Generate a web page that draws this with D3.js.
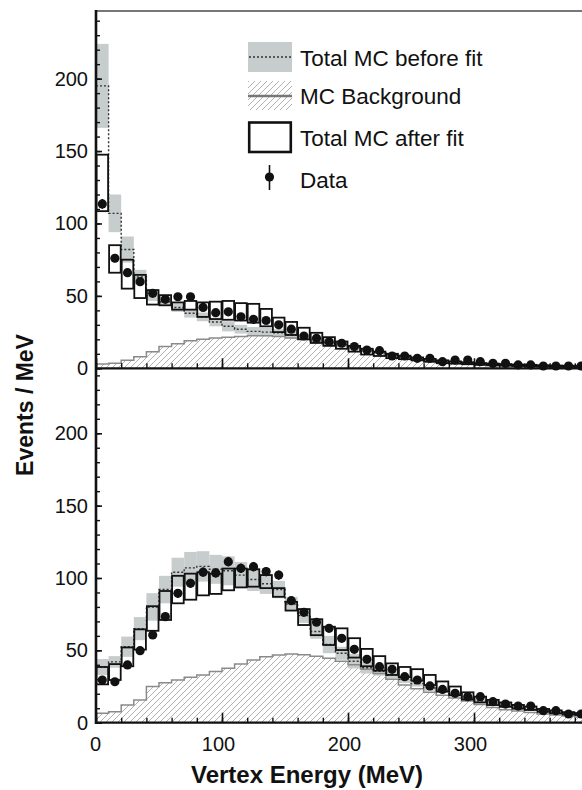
<!DOCTYPE html>
<html>
<head>
<meta charset="utf-8">
<script src="https://cdn.jsdelivr.net/npm/d3@7"></script>
<style>
  html, body { margin: 0; padding: 0; background: #fff; }
  svg { display: block; font-family: "Liberation Sans", Arial, Helvetica, sans-serif; }
</style>
</head>
<body>
<svg id="chart" width="582" height="790"></svg>
<script>
// ---------------- DATA ----------------
const binStart = [0,10,20,30,40,50,60,70,80,90,100,110,120,130,140,150,160,170,180,190,
                  200,210,220,230,240,250,260,270,280,290,300,310,320,330,340,350,360,370,380];
const binWidth = 10;

// Top panel
const beforeTop    = [195,107,82,63,50,46,42,38,35.5,32,29,27,25.5,25,24.5,23,21.5,19.5,18,16.5,14.5,12.5,11,9.5,8,6.5,5.5,4.5,4,3.5,3,2.5,2,1.8,1.5,1.3,1.2,1,1];
const beforeErrTop = [29,13,9,5,3.5,3,3,3,3,3,3.5,3,3,3,2.5,2.5,2,2,2,1.5,1.5,1.5,1.2,1.2,1,1,0.8,0.8,0.7,0.6,0.6,0.5,0.5,0.5,0.4,0.4,0.4,0.3,0.3];
const bgTop        = [3,3.5,5.5,8,11.5,15,17,19,20,21,21.5,22,22.5,22.5,22,21,20,18.5,17,15.5,14,12,10.5,9,7.5,6,5,4,3.5,3,2.5,2,1.8,1.5,1.2,1,0.9,0.8,0.7];
const afterTop     = [128,75.5,65,56.5,49,47,43,43.5,40.5,40,40,39,38,35,30,27.5,24,21,18.5,16,13.5,11.5,10,8.5,7.5,6.5,5.5,4.5,4,3.5,3,2.7,2.4,2.1,1.9,1.7,1.5,1.4,1.3];
const afterErrTop  = [19.5,9.5,10,8,5,3.5,2.5,3,5,6,6.5,6,6.5,6,5,4.5,4,3.5,3,2.5,2,2,1.5,1.5,1.2,1,1,1,0.8,0.7,0.6,0.6,0.5,0.5,0.5,0.4,0.4,0.4,0.4];
const dataTop      = [113.5,76,66,59.8,51.8,47.6,49.4,49.4,42,38.4,39,35.6,33.8,33,30,27,22.3,20.7,18.4,17.3,15,12.6,12.2,8.5,8.5,6.9,6.9,4.6,5.7,5.7,4.6,3.4,3.4,2.3,2.3,1.6,1.6,1.6,1.6];
const dataErrTop   = [3.4,2.8,2.6,2.4,2.3,2.2,2.2,2.2,2,2,2,1.9,1.8,1.8,1.7,1.6,1.5,1.4,1.4,1.3,1.2,1.1,1.1,0.9,0.9,0.8,0.8,0.7,0.8,0.8,0.7,0.6,0.6,0.5,0.5,0.4,0.4,0.4,0.4];

// Bottom panel
const beforeBot    = [38.5,42,52.5,65,80,92,104,107,108,106,105,102,99,96,92,82,74,63,54,48,42.5,38,35.5,33,30,27,24,22,19.5,17,15,13,11.5,10,9,8,7,6,5.5];
const beforeErrBot = [5.5,4,7,8,9.5,9.5,10,11,10.5,10,10,9,8,7,6,5,5,5,6,4.5,5,4,3,2.5,2.5,2,2,1.5,1.5,1.5,1.2,1,1,1,0.8,0.8,0.7,0.6,0.5];
const bgBot        = [6.5,7.6,12.2,15.7,25,27.6,29.5,31.4,33,35.3,37.6,40.6,43.3,45.6,46.8,47.5,47,46,44.5,42.5,40,37,34,30,26,23.5,21,19,17,15,12.5,10.5,9,8,7,6,5.3,4.6,4];
const afterBot     = [32.5,35,45.5,57.5,72,81,92,94,96,96,99,100,100,97.5,90,80.5,73,66,60,57.7,51.7,45,41,37,35,33,29.5,25,22,18.5,16,14,12.5,11,10,8.5,7.5,6.5,6];
const afterErrBot  = [6,5.5,6.5,7,8.5,10,9.5,9,8,7,7.5,6.5,6,4.5,3,3,5.5,5.5,6.3,7.5,6.7,6,5,4,3.5,4,3.5,3.5,3,2.5,2,1.8,1.5,1.3,1.2,1,1,0.8,0.7];
const dataBot      = [29.5,28.3,39.9,49.8,60.6,73.3,89.4,96.3,104,103.5,111.3,106.7,107.8,104.4,102,84.3,76.3,69.4,65.2,58.3,50.7,43.8,38.7,36.9,31.8,29.5,25.4,23,20.3,18,18,14.5,12.9,11.5,11.5,8.3,8.3,6,6];
const dataErrBot   = [1.7,1.7,2,2.2,2.5,2.7,3,3.1,3.2,3.2,3.3,3.3,3.3,3.2,3.2,2.9,2.8,2.6,2.6,2.4,2.3,2.1,2,1.9,1.8,1.7,1.6,1.5,1.4,1.3,1.3,1.2,1.1,1.1,1.1,0.9,0.9,0.8,0.8];

// Axis ticks
const xTickValues = [0, 100, 200, 300];
const xTickLabels = ["0", "100", "200", "300"];
const yTickValues = [0, 50, 100, 150, 200];
const yTickLabels = ["0", "50", "100", "150", "200"];
const legendLabels = ["Total MC before fit", "MC Background", "Total MC after fit", "Data"];
const xTitle = "Vertex Energy (MeV)";
const yTitle = "Events / MeV";

// ---------------- LAYOUT ----------------
const W = 582, H = 790;
const left = 96, right = 582;
const svg = d3.select("#chart");
svg.append("rect").attr("width", W).attr("height", H).attr("fill", "#fff");

const x = d3.scaleLinear().domain([0, 385.7]).range([left, right]);

const panels = [
  { id: "top", y: d3.scaleLinear().domain([0, 246.7]).range([368.3, 11]),
    before: beforeTop, beforeErr: beforeErrTop, bg: bgTop, after: afterTop, afterErr: afterErrTop,
    data: dataTop, dataErr: dataErrTop, labels: false },
  { id: "bot", y: d3.scaleLinear().domain([0, 244.9]).range([722.7, 368.3]),
    before: beforeBot, beforeErr: beforeErrBot, bg: bgBot, after: afterBot, afterErr: afterErrBot,
    data: dataBot, dataErr: dataErrBot, labels: true }
];

const defs = svg.append("defs");
const pat = defs.append("pattern").attr("id", "hatch").attr("patternUnits", "userSpaceOnUse")
  .attr("width", 6).attr("height", 6);
pat.append("path").attr("d", "M-1,1 l2,-2 M0,6 l6,-6 M5,7 l2,-2")
  .attr("stroke", "#a8a8a8").attr("stroke-width", 0.9);

const bandColor = "#c7cccc";

panels.forEach(p => {
  const y = p.y;
  const [yb, yt] = y.range();
  defs.append("clipPath").attr("id", "clip-" + p.id)
    .append("rect").attr("x", left).attr("y", yt).attr("width", right - left).attr("height", yb - yt);
  const g = svg.append("g").attr("clip-path", `url(#clip-${p.id})`);

  const stepPts = vals => binStart.map((b, i) => ({ x: b, v: vals[i] }))
      .concat([{ x: binStart[binStart.length - 1] + binWidth, v: vals[vals.length - 1] }]);

  // background hatched area
  const area = d3.area().x(d => x(d.x)).y0(y(0)).y1(d => y(d.v)).curve(d3.curveStepAfter);
  const line = d3.line().x(d => x(d.x)).y(d => y(d.v)).curve(d3.curveStepAfter);
  g.append("path").datum(stepPts(p.bg)).attr("d", area).attr("fill", "url(#hatch)");

  // before-fit band
  g.selectAll("rect.band").data(binStart).enter().append("rect")
    .attr("x", b => x(b)).attr("width", b => x(b + binWidth) - x(b))
    .attr("y", (b, i) => y(p.before[i] + p.beforeErr[i]))
    .attr("height", (b, i) => y(p.before[i] - p.beforeErr[i]) - y(p.before[i] + p.beforeErr[i]))
    .attr("fill", bandColor);

  // background line
  g.append("path").datum(stepPts(p.bg)).attr("d", line)
    .attr("fill", "none").attr("stroke", "#8a8a8a").attr("stroke-width", 1.5);

  // before-fit dotted line
  g.append("path").datum(stepPts(p.before)).attr("d", line)
    .attr("fill", "none").attr("stroke", "#333").attr("stroke-width", 1.4)
    .attr("stroke-dasharray", "2,2");

  // after-fit boxes
  g.selectAll("rect.after").data(binStart).enter().append("rect")
    .attr("x", b => x(b) + 0.5).attr("width", b => x(b + binWidth) - x(b) - 1)
    .attr("y", (b, i) => y(p.after[i] + p.afterErr[i]))
    .attr("height", (b, i) => y(p.after[i] - p.afterErr[i]) - y(p.after[i] + p.afterErr[i]))
    .attr("fill", "none").attr("stroke", "#111").attr("stroke-width", 1.8);

  // data
  const dg = svg.append("g");
  dg.selectAll("line.err").data(binStart).enter().append("line")
    .attr("x1", b => x(b + binWidth / 2)).attr("x2", b => x(b + binWidth / 2))
    .attr("y1", (b, i) => y(p.data[i] + p.dataErr[i])).attr("y2", (b, i) => y(p.data[i] - p.dataErr[i]))
    .attr("stroke", "#111").attr("stroke-width", 1.5);
  dg.selectAll("circle").data(binStart).enter().append("circle")
    .attr("cx", b => x(b + binWidth / 2)).attr("cy", (b, i) => y(p.data[i]))
    .attr("r", 4.6).attr("fill", "#111");

  // y axis: major ticks + labels
  const ya = svg.append("g").attr("transform", `translate(${left},0)`)
    .call(d3.axisLeft(y).tickValues(yTickValues).tickSize(-6).tickPadding(8)
      .tickFormat((d, i) => yTickLabels[i]));
  ya.select(".domain").remove();
  ya.selectAll("line").attr("stroke", "#111").attr("stroke-width", 1.6);
  ya.selectAll("text").attr("font-size", 20).attr("fill", "#111")
    .attr("font-family", "'Liberation Sans', Arial, sans-serif");
  // y minor ticks
  const ym = svg.append("g").attr("transform", `translate(${left},0)`)
    .call(d3.axisLeft(y).tickValues(d3.range(0, 241, 10)).tickSize(-4).tickFormat(""));
  ym.select(".domain").remove();
  ym.selectAll("line").attr("stroke", "#111").attr("stroke-width", 1.4);

  // x axis ticks
  const xa = svg.append("g").attr("transform", `translate(0,${yb})`)
    .call(d3.axisBottom(x).tickValues(xTickValues).tickSize(-10).tickPadding(14)
      .tickFormat((d, i) => p.labels ? xTickLabels[i] : ""));
  xa.select(".domain").remove();
  xa.selectAll("line").attr("stroke", "#111").attr("stroke-width", 1.6);
  xa.selectAll("text").attr("font-size", 20).attr("fill", "#111")
    .attr("font-family", "'Liberation Sans', Arial, sans-serif")
    .attr("dx", d => d === 0 ? -1 : -4);
  const xm = svg.append("g").attr("transform", `translate(0,${yb})`)
    .call(d3.axisBottom(x).tickValues(d3.range(0, 386, 20)).tickSize(-5).tickFormat(""));
  xm.select(".domain").remove();
  xm.selectAll("line").attr("stroke", "#111").attr("stroke-width", 1.4);

  // axis base line
  svg.append("line").attr("x1", left).attr("x2", right).attr("y1", yb).attr("y2", yb)
    .attr("stroke", "#111").attr("stroke-width", 2.2);
});

// frame: top line and left axis
svg.append("line").attr("x1", left).attr("x2", right).attr("y1", 11).attr("y2", 11)
  .attr("stroke", "#777").attr("stroke-width", 2);
svg.append("line").attr("x1", left).attr("x2", left).attr("y1", 10).attr("y2", 724)
  .attr("stroke", "#111").attr("stroke-width", 2.6);

// titles
svg.append("text").attr("x", 307).attr("y", 783).attr("text-anchor", "middle")
  .attr("font-size", 24).attr("font-weight", "bold").attr("fill", "#111").text(xTitle);
svg.append("text").attr("transform", "translate(33,405) rotate(-90)").attr("text-anchor", "middle")
  .attr("font-size", 23).attr("font-weight", "bold").attr("fill", "#111").text(yTitle);

// ---------------- LEGEND ----------------
const lg = svg.append("g");
const lx = 248, lw = 44, tx = 300;
// row 1: before fit
lg.append("rect").attr("x", lx).attr("y", 42).attr("width", lw).attr("height", 30).attr("fill", bandColor);
lg.append("line").attr("x1", lx + 1).attr("x2", lx + lw - 1).attr("y1", 57).attr("y2", 57)
  .attr("stroke", "#333").attr("stroke-width", 1.4).attr("stroke-dasharray", "2,2");
// row 2: background
lg.append("rect").attr("x", lx).attr("y", 81).attr("width", lw).attr("height", 29).attr("fill", "url(#hatch)");
lg.append("line").attr("x1", lx).attr("x2", lx + lw).attr("y1", 96).attr("y2", 96)
  .attr("stroke", "#777").attr("stroke-width", 2.6);
// row 3: after fit
lg.append("rect").attr("x", lx + 1.2).attr("y", 122.5).attr("width", lw - 2.4).attr("height", 29.5)
  .attr("fill", "none").attr("stroke", "#111").attr("stroke-width", 2.6);
// row 4: data
lg.append("line").attr("x1", 269.5).attr("x2", 269.5).attr("y1", 165).attr("y2", 190)
  .attr("stroke", "#111").attr("stroke-width", 1.6);
lg.append("circle").attr("cx", 269.5).attr("cy", 177).attr("r", 4.6).attr("fill", "#111");

const ly = [66, 104, 146, 188];
legendLabels.forEach((t, i) => {
  lg.append("text").attr("x", tx).attr("y", ly[i]).attr("font-size", 22.5).attr("fill", "#111").text(t);
});
</script>
</body>
</html>
